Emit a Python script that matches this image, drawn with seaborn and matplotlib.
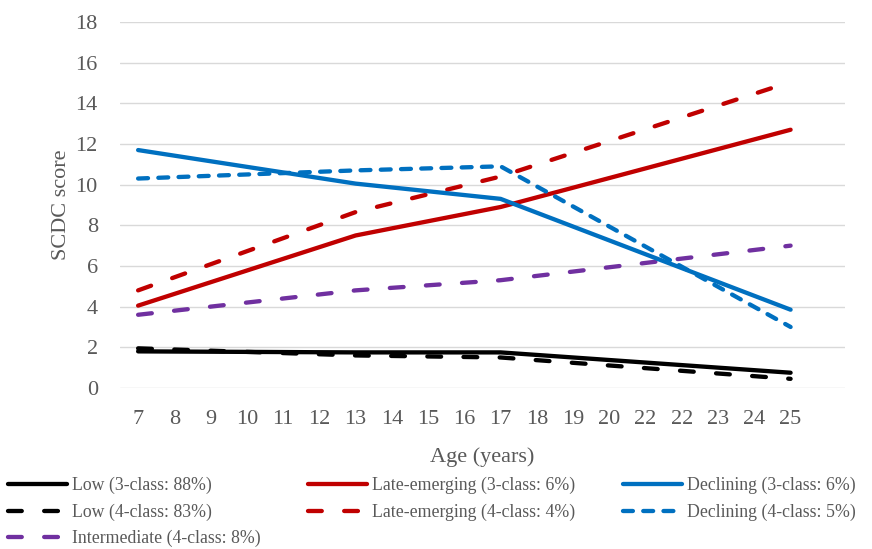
import matplotlib
matplotlib.use("Agg")
import matplotlib.pyplot as plt
import seaborn as sns
import pandas as pd

sns.set_style("white")
plt.rcParams['font.family'] = ['Liberation Serif', 'DejaVu Serif']

# x-axis categories as printed on the chart (note the repeated 22)
age_labels = ["7", "8", "9", "10", "11", "12", "13", "14", "15", "16",
              "17", "18", "19", "20", "22", "22", "23", "24", "25"]
obs_ages = ["7", "13", "17", "25"]

low_3 = [1.80, 1.75, 1.75, 0.75]
late_3 = [4.05, 7.50, 8.90, 12.70]
decl_3 = [11.70, 10.05, 9.30, 3.85]
low_4 = [1.95, 1.60, 1.50, 0.45]
late_4 = [4.80, 8.65, 10.40, 15.05]
decl_4 = [10.30, 10.70, 10.90, 3.00]
inter_4 = [3.60, 4.80, 5.30, 7.00]

x_pos = [age_labels.index(a) for a in obs_ages]

long_dash = (0, (3.2, 5.2))
short_dash = (0, (2.3, 2.4))

# order arranged so that ncol=3 fills columns like the original legend
series = [
    ("Low (3-class: 88%)", low_3, "#000000", "-"),
    ("Low (4-class: 83%)", low_4, "#000000", long_dash),
    ("Intermediate (4-class: 8%)", inter_4, "#7030A0", long_dash),
    ("Late-emerging (3-class: 6%)", late_3, "#C00000", "-"),
    ("Late-emerging (4-class: 4%)", late_4, "#C00000", long_dash),
    ("Declining (3-class: 6%)", decl_3, "#0070C0", "-"),
    ("Declining (4-class: 5%)", decl_4, "#0070C0", short_dash),
]

fig = plt.figure(figsize=(8.72, 5.49), dpi=100)
ax = fig.add_axes([0.1376, 0.2933, 0.969 - 0.1376, 0.96 - 0.2933])

handles = []
for name, vals, col, ls in series:
    df = pd.DataFrame({"x": x_pos, "y": vals})
    sns.lineplot(data=df, x="x", y="y", ax=ax, color=col, linestyle=ls,
                 linewidth=3.1, solid_capstyle="round", dash_capstyle="round",
                 solid_joinstyle="round", label=name, legend=False)
    handles.append(ax.lines[-1])

ax.set_xlim(-0.5, 19.5)
ax.set_ylim(0, 18)
ax.set_yticks(range(0, 19, 2))
ax.set_xticks(range(len(age_labels)))
ax.set_xticklabels(age_labels)
ax.tick_params(axis="both", length=0, labelsize=16, colors="#595959")
ax.tick_params(axis="x", pad=16)
ax.tick_params(axis="y", pad=16)
ax.yaxis.grid(True, color="#d9d9d9", linewidth=1.0)
ax.xaxis.grid(False)
ax.set_axisbelow(True)
for s in ax.spines.values():
    s.set_visible(False)

ax.set_xlabel("Age (years)", fontsize=16, color="#595959", labelpad=13)
ax.set_ylabel("SCDC score", fontsize=16, color="#595959", labelpad=3)

fig.legend(handles=handles, labels=[s[0] for s in series], ncol=3,
           loc="upper left", bbox_to_anchor=(8 / 872, 1 - 477 / 549),
           frameon=False, fontsize=12.8, handlelength=3.3, handletextpad=0.28,
           columnspacing=2.7, labelspacing=0.52, borderaxespad=0.0,
           borderpad=0.0, labelcolor="#595959")

fig.savefig("out.png", dpi=100)
